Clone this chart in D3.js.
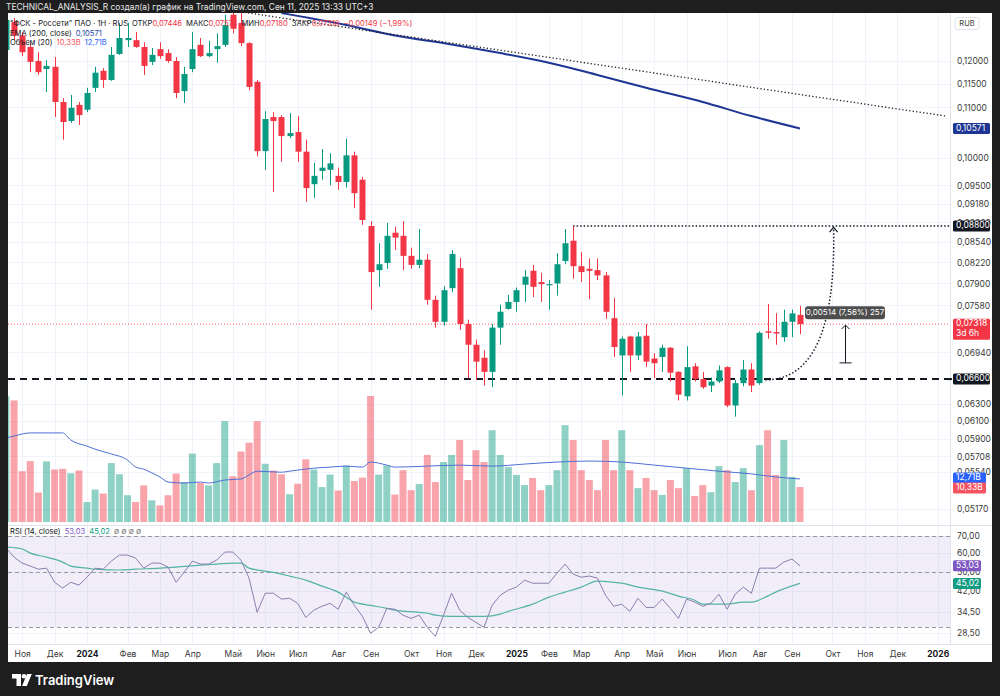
<!DOCTYPE html>
<html><head><meta charset="utf-8">
<script src="https://cdn.jsdelivr.net/npm/d3@7"></script>
<style>
html,body{margin:0;padding:0;background:#1e1e1e;}
svg{display:block;font-family:"Inter","Noto Sans",sans-serif;}
</style></head><body>
<svg id="chart" width="1000" height="696"></svg>
<script>
// ---------- DATA ----------
const firstBar = "2023-10-23", lastBar = "2025-09-08"; // weekly bars
const opens  = [0.1225,0.1291,0.1259,0.1232,0.1200,0.1182,0.1187,0.1111,0.1072,0.1105,
0.1095,0.1141,0.1178,0.1158,0.1216,0.1248,0.1248,0.1232,0.1198,0.1227,
0.1218,0.1200,0.1134,0.1182,0.1237,0.1211,0.1227,0.1237,0.1309,0.1289,
0.1241,0.1154,0.1013,0.1080,0.1080,0.1042,0.1050,0.1012,0.0952,0.0976,
0.0978,0.0967,0.0956,0.1005,0.0960,0.0880,0.0810,0.0821,0.0869,0.0864,
0.0832,0.0818,0.0826,0.0766,0.0735,0.0783,0.0813,0.0732,0.0704,0.0687,
0.0669,0.0727,0.0753,0.0763,0.0788,0.0809,0.0792,0.0788,0.0790,0.0824,
0.0856,0.0816,0.0812,0.0810,0.0802,0.0740,0.0690,0.0715,0.0690,0.0716,
0.0686,0.0688,0.0700,0.0669,0.0639,0.0676,0.0660,0.0652,0.0657,0.0675,
0.0628,0.0655,0.0672,0.0655,0.0722,0.0721,0.0714,0.0735,0.07446];
const highs  = [0.1309,0.1301,0.1267,0.1241,0.1220,0.1202,0.1209,0.1119,0.1126,0.1111,
0.1141,0.1187,0.1184,0.1232,0.1289,0.1289,0.1267,0.1243,0.1230,0.1243,
0.1227,0.1209,0.1187,0.1267,0.1253,0.1246,0.1264,0.1309,0.1321,0.1316,
0.1243,0.1158,0.1092,0.1090,0.1084,0.1088,0.1082,0.1035,0.0991,0.1017,
0.1009,0.0982,0.1037,0.1012,0.0965,0.0888,0.0852,0.0885,0.0879,0.0888,
0.0845,0.0875,0.0835,0.0772,0.0786,0.0841,0.0829,0.0738,0.0711,0.0697,
0.0732,0.0759,0.0773,0.0784,0.0810,0.0818,0.0806,0.0795,0.0836,0.0875,
0.0880,0.0838,0.0828,0.0828,0.0807,0.0769,0.0715,0.0716,0.0721,0.0732,
0.0693,0.0704,0.0701,0.0670,0.0702,0.0680,0.0669,0.0662,0.0677,0.0676,
0.0659,0.0684,0.0680,0.0722,0.0760,0.0747,0.0752,0.0752,0.07574];
const lows   = [0.1221,0.1248,0.1211,0.1175,0.1169,0.1132,0.1080,0.1035,0.1068,0.1064,
0.1090,0.1132,0.1141,0.1156,0.1214,0.1232,0.1230,0.1169,0.1191,0.1205,
0.1196,0.1119,0.1109,0.1175,0.1209,0.1209,0.1196,0.1232,0.1264,0.1234,
0.1136,0.1003,0.0978,0.0938,0.0993,0.1038,0.0993,0.0921,0.0928,0.0960,
0.0950,0.0942,0.0946,0.0910,0.0882,0.0752,0.0785,0.0812,0.0841,0.0810,
0.0812,0.0813,0.0759,0.0727,0.0730,0.0777,0.0724,0.0661,0.0659,0.0652,
0.0650,0.0704,0.0752,0.0749,0.0763,0.0770,0.0763,0.0752,0.0772,0.0819,
0.0797,0.0792,0.0767,0.0795,0.0739,0.0688,0.0640,0.0669,0.0684,0.0675,
0.0661,0.0669,0.0657,0.0634,0.0634,0.0657,0.0648,0.0644,0.0655,0.0626,
0.0615,0.0651,0.0644,0.0653,0.0712,0.0704,0.0708,0.0714,0.07180];
const closes = [0.1296,0.1259,0.1220,0.1198,0.1175,0.1189,0.1111,0.1070,0.1099,0.1084,
0.1130,0.1174,0.1158,0.1214,0.1253,0.1253,0.1232,0.1189,0.1214,0.1211,
0.1200,0.1130,0.1171,0.1227,0.1211,0.1218,0.1234,0.1284,0.1275,0.1241,
0.1143,0.1013,0.1076,0.1072,0.1042,0.1048,0.1012,0.0945,0.0967,0.0982,
0.0990,0.0956,0.1005,0.0936,0.0890,0.0807,0.0819,0.0864,0.0861,0.0832,
0.0818,0.0826,0.0766,0.0735,0.0780,0.0835,0.0732,0.0704,0.0682,0.0669,
0.0727,0.0749,0.0763,0.0780,0.0800,0.0785,0.0789,0.0789,0.0819,0.0852,
0.0816,0.0807,0.0809,0.0802,0.0749,0.0701,0.0712,0.0690,0.0715,0.0682,
0.0680,0.0700,0.0668,0.0641,0.0675,0.0660,0.0650,0.0657,0.0671,0.0628,
0.0655,0.0672,0.0652,0.0720,0.0720,0.0719,0.0735,0.07467,0.07318];
const volumesB = [37.1,35.9,15.0,18.0,8.7,17.9,15.5,15.7,14.4,15.2,
5.9,9.6,8.4,17.4,14.1,7.9,5.9,10.8,6.4,4.9,
7.9,14.3,11.8,20.2,11.5,10.8,17.4,29.8,13.5,20.8,
23.4,29.8,17.2,15.2,14.1,8.2,11.3,18.5,15.5,10.3,
14.0,9.3,16.7,12.1,13.1,37.2,14.0,16.7,8.1,15.3,
9.4,11.2,19.8,11.8,17.7,19.8,24.2,12.4,21.2,17.7,
27.1,19.8,16.2,13.9,10.9,13.0,9.4,10.9,15.3,28.6,
24.2,15.3,12.4,9.4,24.2,15.3,27.1,15.3,10.0,13.0,
9.4,8.0,12.4,10.0,15.9,7.7,10.9,8.8,16.5,15.3,
11.8,15.9,9.4,22.7,27.1,13.9,24.2,13.3,10.33];
const volMaIdx = [0,1,3,5,7,8,10,11,13,15,16,17,18,19,20,22,24,25,27,29,30,31,34,35,38,40,42,44,45,47,48,52,56,60,64,68,72,76,80,84,88,92,95,98];
const volMaVal = [24.8,25.4,26.3,26.3,26.3,24.2,22.4,21.5,20.1,18.3,16.2,15.6,14.5,13.3,11.8,11.5,11.8,11.5,12.4,12.7,13.9,15.0,14.7,15.0,15.9,16.2,16.5,16.2,17.7,16.8,16.2,16.5,16.8,16.5,17.1,17.7,18.0,17.7,16.8,15.9,15.0,14.2,13.3,12.71];
const emaIdx = [34,42,48,55,61,67,73,79,86,92,98];
const emaVal = [0.1313,0.1284,0.1259,0.1238,0.1218,0.1196,0.1169,0.1141,0.1111,0.1082,0.10571];
const rsiVals = [62.6,57.5,54.4,52.9,51.4,51.9,45.5,43.1,45.5,44.3,
47.7,51.9,51.4,55.4,58.6,58.6,57.0,51.9,54.4,54.4,
52.4,45.5,50.0,55.4,53.9,53.9,55.9,60.3,60.3,55.9,
47.3,34.4,41.1,41.1,38.9,39.2,37.4,32.8,35.1,36.4,
37.4,35.4,41.5,36.7,33.1,28.3,29.9,35.7,35.4,33.5,
32.5,33.5,29.9,27.5,33.5,41.1,35.1,32.8,31.3,29.9,
36.7,40.3,42.3,43.5,46.4,45.1,45.1,45.1,49.5,53.9,
49.1,47.7,48.2,47.3,40.3,36.4,37.1,34.7,39.2,36.0,
36.0,38.9,35.7,32.5,38.9,37.8,36.4,37.4,40.7,35.4,
40.7,43.5,41.1,51.9,51.9,51.9,54.9,56.5,53.03];
const rsiMaIdx = [0,2,3,5,7,8,10,11,14,16,19,21,24,26,28,29,30,32,34,35,37,39,41,42,43,45,47,48,51,52,53,55,57,59,61,62,65,67,69,71,73,75,76,78,81,83,85,86,88,89,91,92,94,95,98];
const rsiMaVal = [63.2,62.0,59.7,57.5,54.9,52.9,51.9,51.4,51.0,51.4,51.9,52.4,53.4,53.9,54.4,54.4,51.9,50.5,49.1,48.2,46.4,43.9,41.5,39.6,37.8,36.7,35.7,35.1,34.4,34.1,33.5,33.1,33.1,33.1,33.8,34.7,37.1,39.6,41.5,43.5,46.0,45.5,45.1,43.5,41.9,40.0,38.5,37.1,37.1,37.1,37.8,37.8,40.0,41.5,45.02];
const priceTicks = [0.12,0.115,0.11,0.10,0.095,0.0918,0.0886,0.0854,0.0822,0.079,0.0758,0.0694,0.063,0.061,0.059,0.05708,0.0554,0.0517];
const rsiTicks = [70,60,50,42,34.5,28.5];
const rsiLevels = [70,50,30];
const monthDates = ["2023-11-06","2023-12-04","2024-01-01","2024-02-05","2024-03-04","2024-04-01","2024-05-06","2024-06-03","2024-07-01","2024-08-05","2024-09-02","2024-10-07","2024-11-04","2024-12-02","2025-01-06","2025-02-03","2025-03-03","2025-04-07","2025-05-05","2025-06-02","2025-07-07","2025-08-04","2025-09-01","2025-10-06","2025-11-03","2025-12-01","2026-01-05"];
const monthLabels = ["Ноя","Дек","2024","Фев","Мар","Апр","Май","Июн","Июл","Авг","Сен","Окт","Ноя","Дек","2025","Фев","Мар","Апр","Май","Июн","Июл","Авг","Сен","Окт","Ноя","Дек","2026"];
const supportLevel = 0.066, targetLevel = 0.0880, targetFrom = "2025-02-24";
const trendStart = ["2024-05-13", 0.1316], trendEnd = ["2026-01-12", 0.1082];
const arcStart = ["2025-08-09", 0.0659], arcCtrl = ["2025-10-10", 0.0659], arcEnd = ["2025-10-07", 0.0878];
const measureDate = "2025-10-17", measureFrom = 0.06804, measureTo = 0.07318, measureText = "0,00514 (7,56%) 257";
const lastPrice = 0.07318, emaLast = 0.10571, volLast = 10.33, volMaLast = 12.71, rsiLast = 53.03, rsiMaLast = 45.02;

// ---------- LAYOUT ----------
const W=1000,H=696, L=8, R=950, AX=992;
const mainTop=13, mainBot=525, rsiTop=526, rsiBot=644, tBot=662;
const pd = s => d3.utcParse("%Y-%m-%d")(s);
const dates = d3.utcMonday.range(pd(firstBar), d3.utcDay.offset(pd(lastBar),1));
const x = d3.scaleUtc().domain([pd("2024-01-01"), pd("2025-09-08")]).range([87,800]);
const y = d3.scaleLog().domain([0.0517,0.12]).range([509,61]);
const yv = d3.scaleLinear().domain([0,37.2]).range([522,396]);
const yr = d3.scaleLog().domain([30,70]).range([627,536]);
const fmt = (v,n)=>v.toFixed(n).replace(".",",");
const UP="#089981", DN="#f23645";

const svg = d3.select("#chart");
svg.append("rect").attr("width",W).attr("height",H).attr("fill","#1e1e1e");
svg.append("rect").attr("x",L).attr("y",mainTop).attr("width",AX-L).attr("height",tBot-mainTop).attr("fill","#fff");

const defs = svg.append("defs");
defs.append("clipPath").attr("id","cm").append("rect").attr("x",L).attr("y",mainTop).attr("width",R-L).attr("height",mainBot-mainTop);
defs.append("clipPath").attr("id","cr").append("rect").attr("x",L).attr("y",rsiTop).attr("width",R-L).attr("height",rsiBot-rsiTop);

// grids
const grid = svg.append("g").attr("stroke","#f0f3fa").attr("stroke-width",1);
monthDates.forEach(d=>{ const xx=Math.round(x(pd(d)))+0.5; if(xx<R) grid.append("line").attr("x1",xx).attr("x2",xx).attr("y1",mainTop).attr("y2",rsiBot); });
priceTicks.forEach(t=>{ const yy=Math.round(y(t))+0.5; if(yy>mainTop&&yy<mainBot) grid.append("line").attr("x1",L).attr("x2",R).attr("y1",yy).attr("y2",yy); });
rsiTicks.forEach(t=>{ const yy=Math.round(yr(t))+0.5; grid.append("line").attr("x1",L).attr("x2",R).attr("y1",yy).attr("y2",yy); });

// separators
const sep = svg.append("g").attr("stroke","#e0e3eb").attr("stroke-width",1);
sep.append("line").attr("x1",L).attr("x2",AX).attr("y1",mainBot+0.5).attr("y2",mainBot+0.5);
sep.append("line").attr("x1",L).attr("x2",AX).attr("y1",rsiBot+0.5).attr("y2",rsiBot+0.5);
sep.append("line").attr("x1",R+0.5).attr("x2",R+0.5).attr("y1",mainTop).attr("y2",rsiBot);

// ---------- MAIN PANE ----------
const gm = svg.append("g").attr("clip-path","url(#cm)");
gm.selectAll("rect.vol").data(dates).join("rect").attr("class","vol")
  .attr("x",(d,i)=>x(d)-3.5).attr("width",7)
  .attr("y",(d,i)=>yv(volumesB[i])).attr("height",(d,i)=>yv(0)-yv(volumesB[i]))
  .attr("fill",(d,i)=>closes[i]>=opens[i]?"rgba(8,153,129,0.45)":"rgba(242,54,69,0.45)");
gm.append("path").attr("fill","none").attr("stroke","#4f6fd6").attr("stroke-width",1)
  .attr("d", d3.line().curve(d3.curveMonotoneX).x((k,j)=>x(dates[k])).y((k,j)=>yv(volMaVal[j]))(volMaIdx));
gm.append("line").attr("x1",L).attr("x2",R).attr("y1",y(lastPrice)).attr("y2",y(lastPrice))
  .attr("stroke",DN).attr("stroke-width",1).attr("stroke-dasharray","1,2").attr("opacity",0.8);
gm.append("path").attr("fill","none").attr("stroke","#1f3593").attr("stroke-width",2)
  .attr("d", d3.line().curve(d3.curveMonotoneX).x(k=>x(dates[k])).y((k,j)=>y(emaVal[j]))(emaIdx));
{
  const x1=x(pd(trendStart[0])), y1=y(trendStart[1]), x2=x(pd(trendEnd[0])), y2=y(trendEnd[1]);
  gm.append("line").attr("x1",x1).attr("y1",y1).attr("x2",x2).attr("y2",y2)
    .attr("stroke","#222").attr("stroke-width",1.3).attr("stroke-dasharray","1.3,2.2");
}
gm.append("line").attr("x1",L).attr("x2",R).attr("y1",y(supportLevel)).attr("y2",y(supportLevel))
  .attr("stroke","#131722").attr("stroke-width",2).attr("stroke-dasharray","7,5");
gm.append("line").attr("x1",x(pd(targetFrom))).attr("x2",R).attr("y1",y(targetLevel)).attr("y2",y(targetLevel))
  .attr("stroke","#131722").attr("stroke-width",1.5).attr("stroke-dasharray","1.5,2");
const cg = gm.append("g");
cg.selectAll("line").data(dates).join("line")
  .attr("x1",d=>Math.round(x(d))+0.5).attr("x2",d=>Math.round(x(d))+0.5)
  .attr("y1",(d,i)=>y(highs[i])).attr("y2",(d,i)=>y(lows[i]))
  .attr("stroke",(d,i)=>closes[i]>=opens[i]?UP:DN).attr("stroke-width",1);
cg.selectAll("rect").data(dates).join("rect")
  .attr("x",d=>Math.round(x(d))-2.5).attr("width",6)
  .attr("y",(d,i)=>Math.min(y(opens[i]),y(closes[i])))
  .attr("height",(d,i)=>Math.max(1.2,Math.abs(y(opens[i])-y(closes[i]))))
  .attr("fill",(d,i)=>closes[i]>=opens[i]?UP:DN);
{
  const p0=[x(pd(arcStart[0])),y(arcStart[1])], c=[x(pd(arcCtrl[0])),y(arcCtrl[1])], p1=[x(pd(arcEnd[0])),y(arcEnd[1])];
  const pth=d3.path(); pth.moveTo(...p0); pth.quadraticCurveTo(c[0],c[1],p1[0],p1[1]);
  gm.append("path").attr("d",pth.toString()).attr("fill","none").attr("stroke","#131722")
    .attr("stroke-width",1.5).attr("stroke-dasharray","1.5,2");
  gm.append("path").attr("d",`M${p1[0]-4},${p1[1]+5}L${p1[0]},${p1[1]}L${p1[0]+4},${p1[1]+5}`)
    .attr("fill","none").attr("stroke","#131722").attr("stroke-width",1.2);
}
{
  const mx=Math.round(x(pd(measureDate)))+0.5, ya=y(measureFrom), yb=y(measureTo);
  gm.append("line").attr("x1",mx).attr("x2",mx).attr("y1",ya).attr("y2",yb+1).attr("stroke","#131722").attr("stroke-width",1);
  gm.append("line").attr("x1",mx-6).attr("x2",mx+6).attr("y1",ya).attr("y2",ya).attr("stroke","#131722").attr("stroke-width",1);
  gm.append("path").attr("d",`M${mx-4},${yb+5}L${mx},${yb+1}L${mx+4},${yb+5}`).attr("fill","none").attr("stroke","#131722").attr("stroke-width",1);
  const bx=805, by=yb-18;
  gm.append("rect").attr("x",bx).attr("y",by).attr("width",80).attr("height",13).attr("rx",3).attr("fill","#4d4d4d");
  gm.append("text").attr("x",bx+40).attr("y",by+6.8).attr("text-anchor","middle").attr("dominant-baseline","middle")
    .attr("font-size",8).attr("fill","#fff").text(measureText);
}

// ---------- RSI PANE ----------
const gr = svg.append("g").attr("clip-path","url(#cr)");
gr.append("rect").attr("x",L).attr("width",R-L).attr("y",yr(70)).attr("height",yr(30)-yr(70)).attr("fill","rgba(126,87,194,0.10)");
rsiLevels.forEach(v=>gr.append("line").attr("x1",L).attr("x2",R).attr("y1",Math.round(yr(v))+0.5).attr("y2",Math.round(yr(v))+0.5)
  .attr("stroke","#9598a1").attr("stroke-width",1).attr("stroke-dasharray","4,3"));
gr.append("path").attr("fill","none").attr("stroke","#52b3a6").attr("stroke-width",1.2)
  .attr("d", d3.line().curve(d3.curveMonotoneX).x(k=>x(dates[k])).y((k,j)=>yr(rsiMaVal[j]))(rsiMaIdx));
gr.append("path").attr("fill","none").attr("stroke","#8a7fae").attr("stroke-width",1)
  .attr("d", d3.line().x(d=>x(d)).y((d,i)=>yr(rsiVals[i]))(dates));

// ---------- AXES ----------
const axP = svg.append("g").attr("transform",`translate(${R},0)`)
  .call(d3.axisRight(y).tickValues(priceTicks).tickSize(0).tickPadding(7).tickFormat(d=>fmt(d,5)));
const axR = svg.append("g").attr("transform",`translate(${R},0)`)
  .call(d3.axisRight(yr).tickValues(rsiTicks).tickSize(0).tickPadding(7).tickFormat(d=>fmt(d,2)));
const axT = svg.append("g").attr("transform",`translate(0,${rsiBot})`)
  .call(d3.axisBottom(x).tickValues(monthDates.map(pd)).tickSize(0).tickPadding(7)
    .tickFormat((d,i)=>monthLabels[i]));
[axP,axR,axT].forEach(a=>{a.select(".domain").remove(); a.selectAll("text").attr("font-family","Inter, Noto Sans, sans-serif").attr("font-size",8.5).attr("fill","#3b3b3b");});
axT.selectAll("text").filter((d,i)=>/^\d{4}$/.test(monthLabels[i])).attr("font-weight","bold").attr("fill","#131722");

function box(yc, lines, bg, fg, w){
  const h = 10*lines.length+1;
  const g = svg.append("g");
  g.append("rect").attr("x",R+3).attr("y",yc-5.5).attr("width",w||37).attr("height",h).attr("rx",1.5).attr("fill",bg);
  lines.forEach((t,k)=>g.append("text").attr("x",R+6).attr("y",yc+k*10).attr("dominant-baseline","middle")
    .attr("font-size",8.5).attr("fill",fg).text(t));
}
box(y(emaLast),[fmt(emaLast,5)],"#1f3593","#fff");
box(y(targetLevel),[fmt(targetLevel,5)],"#131722","#fff");
box(y(lastPrice),[fmt(lastPrice,5),"3d 6h"],"#f23645","#fff");
box(y(supportLevel),[fmt(supportLevel,5)],"#131722","#fff");
svg.append("line").attr("x1",R-3).attr("x2",R+2).attr("y1",y(supportLevel)).attr("y2",y(supportLevel)).attr("stroke","#131722").attr("stroke-width",2);
box(yv(volMaLast)-1,[fmt(volMaLast,2)+"B"],"#2962ff","#fff",33);
box(yv(volLast)+1,[fmt(volLast,2)+"B"],"#f7525f","#fff",33);
box(yr(rsiLast),[fmt(rsiLast,2)],"#7e57c2","#fff",28);
box(yr(rsiMaLast),[fmt(rsiMaLast,2)],"#139c84","#fff",28);

svg.append("rect").attr("x",955).attr("y",17.5).attr("width",24).attr("height",12).attr("rx",2).attr("fill","#fff").attr("stroke","#e0e3eb");
svg.append("text").attr("x",967).attr("y",24).attr("text-anchor","middle").attr("dominant-baseline","middle").attr("font-size",7.5).attr("fill","#3b3b3b").text("RUB");

// ---------- LEGENDS ----------
svg.append("text").attr("x",6).attr("y",8).attr("dominant-baseline","middle").attr("font-size",8.4).attr("fill","#e8e8e8")
  .text("TECHNICAL_ANALYSIS_R создал(а) график на TradingView.com, Сен 11, 2025 13:33 UTC+3");
const lg = svg.append("g").attr("font-size",7.6);
const r1 = lg.append("text").attr("x",10).attr("y",24).attr("dominant-baseline","middle").attr("fill","#131722");
r1.append("tspan").text("\"ФСК - Россети\" ПАО · 1Н · RUS");
[["ОТКР",opens[98]],["МАКС",highs[98]],["МИН",lows[98]],["ЗАКР",closes[98]]].forEach(([k,v])=>{
  r1.append("tspan").attr("dx",4).attr("fill","#131722").text(k);
  r1.append("tspan").attr("fill",DN).text(fmt(v,5));
});
r1.append("tspan").attr("dx",4).attr("fill",DN).text("−0,00149 (−1,99%)");
const r2 = lg.append("text").attr("x",10).attr("y",33.5).attr("dominant-baseline","middle").attr("fill","#131722");
r2.append("tspan").text("EMA (200, close)");
r2.append("tspan").attr("dx",4).attr("fill","#2a46a8").text(fmt(emaLast,5));
const r3 = lg.append("text").attr("x",10).attr("y",43).attr("dominant-baseline","middle").attr("fill","#131722");
r3.append("tspan").text("Объем (20)");
r3.append("tspan").attr("dx",4).attr("fill","#f7525f").text(fmt(volLast,2)+"B");
r3.append("tspan").attr("dx",4).attr("fill","#2962ff").text(fmt(volMaLast,2)+"B");
const r4 = lg.append("text").attr("x",10).attr("y",531.5).attr("dominant-baseline","middle").attr("fill","#131722");
r4.append("tspan").text("RSI (14, close)");
r4.append("tspan").attr("dx",4).attr("fill","#7e57c2").text(fmt(rsiLast,2));
r4.append("tspan").attr("dx",4).attr("fill","#139c84").text(fmt(rsiMaLast,2));
r4.append("tspan").attr("dx",4).attr("fill","#777").text("∅ ∅ ∅ ∅");

// ---------- FOOTER LOGO ----------
const fl = svg.append("g").attr("fill","#fff");
fl.append("path").attr("d","M12,674 h9 v12 h-4.5 v-7.5 h-4.5 z");
fl.append("circle").attr("cx",24).attr("cy",676.3).attr("r",2.3);
fl.append("path").attr("d","M27,674 h4.8 l-5,12 h-4.8 z");
fl.append("text").attr("x",35).attr("y",681).attr("dominant-baseline","middle").attr("font-size",13).attr("font-weight","600").text("TradingView");
</script>
</body></html>
